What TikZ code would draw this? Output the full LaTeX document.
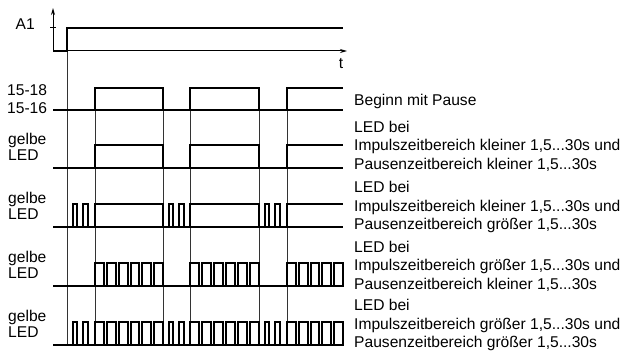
\documentclass[tikz,border=0pt]{standalone}
\usepackage{fontspec}
\setmainfont{Liberation Sans}
\usetikzlibrary{arrows.meta}

\begin{document}
\begin{tikzpicture}[
        x=1pt, y=-1pt,
        lbl/.style={font=\fontsize{15.6}{16}\selectfont, align=left, anchor=west, inner sep=0pt},
        desc/.style={font=\fontsize{15.6}{18.5}\selectfont, align=left, anchor=west, inner sep=0pt},
        sig/.style={line width=2pt},
        guide/.style={line width=0.7pt, black!80},
        axis/.style={line width=1pt, -{Stealth[length=7pt, width=4pt]}}
    ]
        \useasboundingbox (0,0) rectangle (624,353);

        % Achsen
        \draw[axis] (53,51) -- (53,8);
        \draw[axis] (53,51) -- (347,51);
        \draw[line width=1pt] (50,28) -- (56,28);
        \node[lbl, anchor=east] (a1) at (35,24) {A1};
        \node[lbl, anchor=center] (t) at (341,64) {t};

        % Hilfslinien
        \draw[guide] (67,28) -- (67,345);
        \foreach \gx in {95,163,190,259,287}
            \draw[guide] (\gx,88) -- (\gx,345);

        % A1
        \draw[sig] (53,51) -- (67,51) -- (67,28) -- (343,28);

        % Kontakt und gelbe LED (Dauerlicht)
        \foreach \lo/\hi in {110/88,168/145,227/204} {
            \draw[sig] (53,\lo) -- (343,\lo);
            \draw[sig] (95,\lo) |- (163,\hi) -- (163,\lo);
            \draw[sig] (190,\lo) |- (259,\hi) -- (259,\lo);
            \draw[sig] (287,\lo) |- (343,\hi);
        }

        % LED blinkt im Impuls
        \foreach \lo/\hi in {286/263,345/322} {
            \draw[sig] (53,\lo) -- (343,\lo);
            \foreach \a/\b/\n in {95/163/6,190/259/6,287/343/5}
                \foreach \k in {1,...,\n}
                    \draw[sig] ({\a+(\k-1)*(\b-\a+3)/\n},\lo) rectangle ({\a+\k*(\b-\a+3)/\n-3},\hi);
        }

        % LED blitzt in der Pause
        \foreach \lo/\hi in {227/204,345/322}
            \foreach \a in {67,163,259} {
                \draw[sig] (\a+5.5,\lo) rectangle (\a+10,\hi);
                \draw[sig] (\a+16,\lo) rectangle (\a+20.5,\hi);
            }

        % Beschriftung links
        \node[lbl] (k18) at (7,90) {15-18};
        \node[lbl] (k16) at (7,108) {15-16};
        \node[lbl] (led1) at (8,147) {gelbe\\LED};
        \node[lbl] (led2) at (8,206) {gelbe\\LED};
        \node[lbl] (led3) at (8,265) {gelbe\\LED};
        \node[lbl] (led4) at (8,324) {gelbe\\LED};

        % Beschriftung rechts
        \node[desc] (pause) at (354,101) {Beginn mit Pause};
        \node[desc] (d1) at (354,146) {LED bei\\Impulszeitbereich kleiner 1,5...30s und\\Pausenzeitbereich kleiner 1,5...30s};
        \node[desc] (d2) at (354,207) {LED bei\\Impulszeitbereich kleiner 1,5...30s und\\Pausenzeitbereich größer 1,5...30s};
        \node[desc] (d3) at (354,266) {LED bei\\Impulszeitbereich größer 1,5...30s und\\Pausenzeitbereich kleiner 1,5...30s};
        \node[desc] (d4) at (354,325) {LED bei\\Impulszeitbereich größer 1,5...30s und\\Pausenzeitbereich größer 1,5...30s};
    \end{tikzpicture}
\end{document}
